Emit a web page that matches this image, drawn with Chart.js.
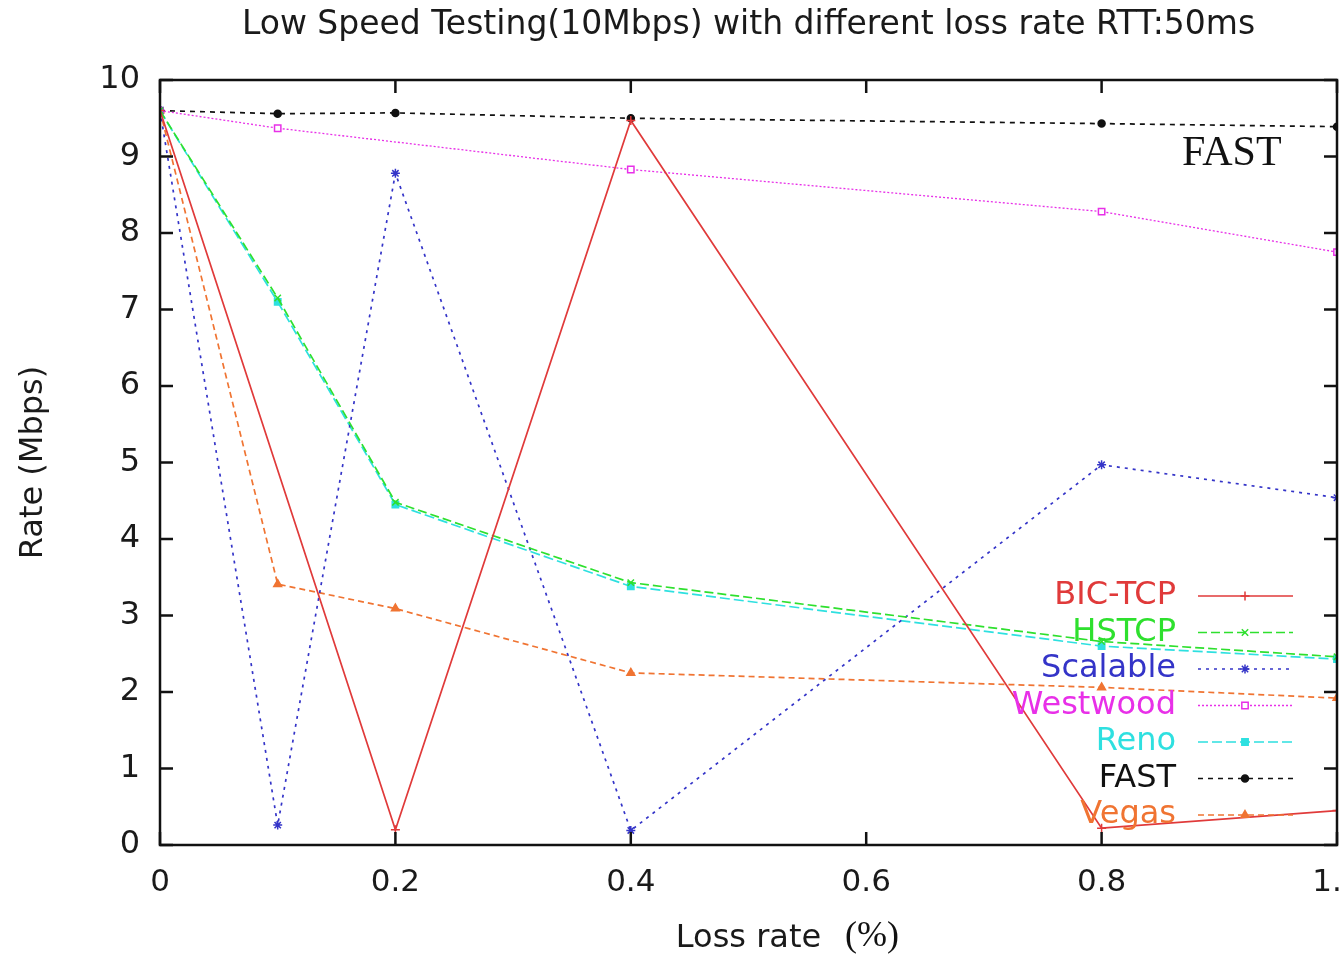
<!DOCTYPE html>
<html>
<head>
<meta charset="utf-8">
<script src="https://cdn.jsdelivr.net/npm/chart.js@4.4.0/dist/chart.umd.min.js"></script>
<style>
  html, body { margin: 0; padding: 0; background: #fff; }
  #wrap { width: 1343px; height: 955px; }
</style>
</head>
<body>
<div id="wrap"><canvas id="chart" width="1343" height="955"></canvas></div>
<script>
// loss rate (%) on the x axis
const lossRates = [0, 0.1, 0.2, 0.4, 0.8, 1.0];

// throughput in Mbps per algorithm (null = no sample at that loss rate)
const bicTcp   = [9.6, null, 0.2, 9.47, 0.22, 0.45];
const hstcp    = [9.6, 7.15, 4.48, 3.43, 2.66, 2.46];
const scalable = [9.6, 0.26, 8.78, 0.19, 4.97, 4.54];
const westwood = [9.6, 9.37, null, 8.83, 8.28, 7.75];
const reno     = [9.6, 7.1, 4.45, 3.38, 2.6, 2.43];
const fast     = [9.6, 9.56, 9.57, 9.5, 9.43, 9.39];
const vegas    = [9.6, 3.41, 3.09, 2.25, 2.06, 1.92];

const seriesNames = ['BIC-TCP', 'HSTCP', 'Scalable', 'Westwood', 'Reno', 'FAST', 'Vegas'];
const xTicks = [0, 0.2, 0.4, 0.6, 0.8, 1];
const yTicks = [0, 1, 2, 3, 4, 5, 6, 7, 8, 9, 10];

const SANS = "'DejaVu Sans', sans-serif";
const SERIF = "'Liberation Serif', 'DejaVu Serif', serif";

function toPoints(values) {
    return lossRates.map((x, i) => ({ x: x, y: values[i] }));
}

function makeSet(label, values, color, dash, style, extra) {
    return Object.assign({
        label: label,
        data: toPoints(values),
        borderColor: color,
        backgroundColor: color,
        borderWidth: 1.7,
        borderDash: dash,
        pointStyle: style,
        pointRadius: 4.5,
        pointBorderColor: color,
        pointBackgroundColor: color,
        pointBorderWidth: 1.5,
        spanGaps: true,
        tension: 0
    }, extra || {});
}

const datasets = [
    makeSet(seriesNames[0], bicTcp,   '#e03a3a', [],      'cross'),
    makeSet(seriesNames[1], hstcp,    '#2ee02e', [9, 4],  'crossRot'),
    makeSet(seriesNames[2], scalable, '#3434c8', [3, 5],  'star'),
    makeSet(seriesNames[3], westwood, '#e830e8', [2, 2],  'rect', { pointBackgroundColor: '#ffffff', borderWidth: 1.3 }),
    makeSet(seriesNames[4], reno,     '#2ee0e0', [10, 4], 'rect'),
    makeSet(seriesNames[5], fast,     '#111111', [5, 5],  'circle', { pointRadius: 3.5 }),
    makeSet(seriesNames[6], vegas,    '#f07432', [6, 4],  'triangle')
];

// gnuplot style frame with inward ticks, legend, extra labels
const framePlugin = {
    id: 'frame',
    afterDraw(chart) {
        const ctx = chart.ctx;
        const a = chart.chartArea;
        const xs = chart.scales.x, ys = chart.scales.y;
        ctx.save();
        ctx.strokeStyle = '#111';
        ctx.lineWidth = 2.5;
        ctx.setLineDash([]);
        ctx.strokeRect(a.left, a.top, a.right - a.left, a.bottom - a.top);
        ctx.beginPath();
        yTicks.forEach(v => {
            const y = ys.getPixelForValue(v);
            ctx.moveTo(a.left, y); ctx.lineTo(a.left + 13, y);
            ctx.moveTo(a.right, y); ctx.lineTo(a.right - 13, y);
        });
        xTicks.forEach(v => {
            const x = xs.getPixelForValue(v);
            ctx.moveTo(x, a.bottom); ctx.lineTo(x, a.bottom - 13);
            ctx.moveTo(x, a.top); ctx.lineTo(x, a.top + 13);
        });
        ctx.stroke();

        // legend
        const textRight = a.right - 161;
        const rowTop = a.bottom - 249;
        ctx.font = '32px ' + SANS;
        ctx.textAlign = 'right';
        ctx.textBaseline = 'middle';
        chart.data.datasets.forEach((ds, i) => {
            const y = rowTop + i * 36.5;
            ctx.fillStyle = ds.borderColor;
            ctx.fillText(ds.label, textRight, y);
            ctx.strokeStyle = ds.borderColor;
            ctx.lineWidth = ds.borderWidth;
            ctx.setLineDash(ds.borderDash);
            ctx.beginPath();
            ctx.moveTo(textRight + 22, y);
            ctx.lineTo(textRight + 117, y);
            ctx.stroke();
            ctx.setLineDash([]);
            ctx.fillStyle = ds.pointBackgroundColor;
            ctx.lineWidth = ds.pointBorderWidth;
            Chart.helpers.drawPoint(ctx, {
                pointStyle: ds.pointStyle,
                radius: ds.pointRadius,
                borderWidth: ds.pointBorderWidth,
                rotation: 0
            }, textRight + 69, y);
        });

        // "(%)" after the x title, and the FAST note
        ctx.fillStyle = '#111';
        ctx.textAlign = 'left';
        ctx.textBaseline = 'alphabetic';
        ctx.font = '36px ' + SERIF;
        ctx.fillText('(%)', 845, 946);
        ctx.font = '42px ' + SERIF;
        ctx.fillText('FAST', 1182, 165);
        ctx.restore();
    }
};

const chartCanvas = document.getElementById('chart');
const myChart = new Chart(chartCanvas, {
    type: 'line',
    data: { datasets: datasets },
    options: {
        responsive: false,
        animation: false,
        devicePixelRatio: 1,
        layout: { padding: { left: 0, right: 4, top: 0, bottom: 0 } },
        scales: {
            x: {
                type: 'linear',
                min: 0,
                max: 1,
                afterBuildTicks: (scale) => { scale.ticks = xTicks.map(v => ({ value: v })); },
                ticks: {
                    color: '#1a1a1a',
                    padding: 19,
                    maxRotation: 0,
                    font: { family: SANS, size: 31 }
                },
                grid: { display: false, drawTicks: false },
                border: { display: false },
                title: {
                    display: true,
                    text: 'Loss rate',
                    color: '#1a1a1a',
                    font: { family: SANS, size: 32 },
                    padding: { top: 0, bottom: -3 }
                },
                afterFit: (scale) => {
                    scale.height = 110;
                    scale.paddingLeft = 0;
                    scale.paddingRight = 0;
                }
            },
            y: {
                min: 0,
                max: 10,
                afterBuildTicks: (scale) => { scale.ticks = yTicks.map(v => ({ value: v })); },
                ticks: {
                    color: '#1a1a1a',
                    padding: 20,
                    font: { family: SANS, size: 32 }
                },
                grid: { display: false, drawTicks: false },
                border: { display: false },
                title: {
                    display: true,
                    text: 'Rate (Mbps)',
                    color: '#1a1a1a',
                    font: { family: SANS, size: 32 },
                    padding: { top: 14, bottom: 0 }
                },
                afterFit: (scale) => {
                    scale.width = 160;
                    scale.paddingTop = 0;
                    scale.paddingBottom = 0;
                }
            }
        },
        plugins: {
            legend: { display: false },
            tooltip: { enabled: false },
            title: {
                display: true,
                fullSize: false,
                text: 'Low Speed Testing(10Mbps) with different loss rate RTT:50ms',
                color: '#1a1a1a',
                font: { family: SANS, size: 33, weight: 'normal' },
                padding: { top: 6, bottom: 34.4 }
            }
        }
    },
    plugins: [framePlugin]
});
</script>
</body>
</html>
